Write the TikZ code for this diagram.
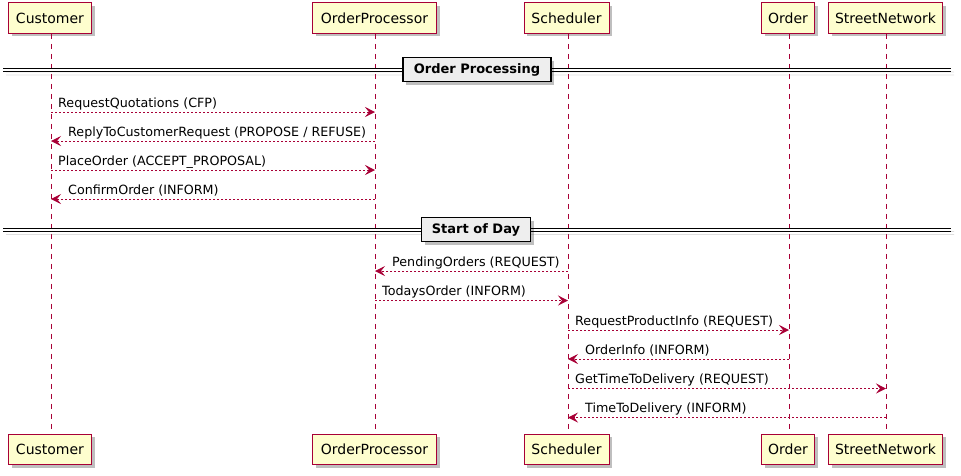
\documentclass[tikz,border=0pt]{standalone}
\usepackage{fontspec}
\setmainfont{DejaVu Sans}
\usetikzlibrary{arrows.meta,shadows}
\definecolor{puRed}{HTML}{A80036}
\definecolor{puFill}{HTML}{FEFECE}
\definecolor{puDiv}{HTML}{EEEEEE}
\tikzset{
  x=1pt,y=-1pt,
  actor/.style={draw=puRed,fill=puFill,line width=1pt,minimum height=30.5pt,inner sep=0pt,
    font=\fontsize{14}{16}\selectfont,
    drop shadow={shadow xshift=3pt,shadow yshift=-3pt,fill=black,opacity=0.25}},
  life/.style={draw=puRed,line width=0.9pt,dash pattern=on 5pt off 5pt},
  msg/.style={draw=puRed,line width=0.9pt,dash pattern=on 2pt off 2pt,
    -{Stealth[length=10pt,width=10pt,inset=4pt,fill=puRed,line width=0.5pt]}},
  lbl/.style={anchor=base west,inner sep=0pt,font=\fontsize{12.7}{15}\selectfont},
  divbox/.style={draw=black,fill=puDiv,line width=1.5pt,minimum height=24pt,inner sep=0pt,
    font=\bfseries\fontsize{13}{15}\selectfont,
    drop shadow={shadow xshift=3pt,shadow yshift=-3pt,fill=black,opacity=0.25}},
  divline/.style={draw=black,line width=0.9pt}
}
\begin{document}
\begin{tikzpicture}
\useasboundingbox (0,0) rectangle (961,475);
% top participants
\node[actor,minimum width=83pt]  (cT)  at (50,18) {Customer};
\node[actor,minimum width=124pt] (opT) at (374.5,18) {OrderProcessor};
\node[actor,minimum width=85pt]  (sT)  at (566.5,18) {Scheduler};
\node[actor,minimum width=53pt]  (oT)  at (788,18) {Order};
\node[actor,minimum width=114pt] (snT) at (885.5,18) {StreetNetwork};
% bottom participants
\node[actor,minimum width=83pt]  (cB)  at (50,449.5) {Customer};
\node[actor,minimum width=124pt] (opB) at (374.5,449.5) {OrderProcessor};
\node[actor,minimum width=85pt]  (sB)  at (566.5,449.5) {Scheduler};
\node[actor,minimum width=53pt]  (oB)  at (788,449.5) {Order};
\node[actor,minimum width=114pt] (snB) at (885.5,449.5) {StreetNetwork};
% lifelines
\coordinate (cL) at (51,0);
\coordinate (opL) at (375,0);
\coordinate (sL) at (568,0);
\coordinate (oL) at (789,0);
\coordinate (snL) at (886,0);
\draw[life] (cL |- cT.south) -- (cL |- cB.north);
\draw[life] (opL |- opT.south) -- (opL |- opB.north);
\draw[life] (sL |- sT.south) -- (sL |- sB.north);
\draw[life] (oL |- oT.south) -- (oL |- oB.north);
\draw[life] (snL |- snT.south) -- (snL |- snB.north);
% divider 1
\coordinate (d1l) at (3,0); \coordinate (d1r) at (951,0);
\begin{scope}[transparency group,opacity=0.25]
\draw[line width=0.9pt,gray] ([xshift=3pt]d1l |- 0,72) -- ([xshift=3pt]d1r |- 0,72);
\draw[line width=0.9pt,gray] ([xshift=3pt]d1l |- 0,75) -- ([xshift=3pt]d1r |- 0,75);
\end{scope}
\draw[divline] (d1l |- 0,68.5) -- (d1r |- 0,68.5);
\draw[divline] (d1l |- 0,71.5) -- (d1r |- 0,71.5);
\node[divbox,minimum width=148pt] (div1) at (477,69.5) {Order Processing};
% messages block 1
\draw[msg] (cL |- 0,112) -- (opL |- 0,112);
\node[lbl] (m1) at (58,107) {RequestQuotations (CFP)};
\draw[msg] (opL |- 0,141) -- (cL |- 0,141);
\node[lbl] (m2) at (68,136) {ReplyToCustomerRequest (PROPOSE / REFUSE)};
\draw[msg] (cL |- 0,170) -- (opL |- 0,170);
\node[lbl] (m3) at (58,165) {PlaceOrder (ACCEPT\_PROPOSAL)};
\draw[msg] (opL |- 0,199) -- (cL |- 0,199);
\node[lbl] (m4) at (68,194) {ConfirmOrder (INFORM)};
% divider 2
\begin{scope}[transparency group,opacity=0.25]
\draw[line width=0.9pt,gray] ([xshift=3pt]d1l |- 0,231.5) -- ([xshift=3pt]d1r |- 0,231.5);
\draw[line width=0.9pt,gray] ([xshift=3pt]d1l |- 0,234.5) -- ([xshift=3pt]d1r |- 0,234.5);
\end{scope}
\draw[divline] (d1l |- 0,228.2) -- (d1r |- 0,228.2);
\draw[divline] (d1l |- 0,231.2) -- (d1r |- 0,231.2);
\node[divbox,minimum width=109pt] (div2) at (476,229.5) {Start of Day};
% messages block 2
\draw[msg] (sL |- 0,271) -- (opL |- 0,271);
\node[lbl] (m5) at (392,266) {PendingOrders (REQUEST)};
\draw[msg] (opL |- 0,300.5) -- (sL |- 0,300.5);
\node[lbl] (m6) at (382,295.5) {TodaysOrder (INFORM)};
\draw[msg] (sL |- 0,330) -- (oL |- 0,330);
\node[lbl] (m7) at (575,325) {RequestProductInfo (REQUEST)};
\draw[msg] (oL |- 0,359) -- (sL |- 0,359);
\node[lbl] (m8) at (585,354) {OrderInfo (INFORM)};
\draw[msg] (sL |- 0,388.5) -- (snL |- 0,388.5);
\node[lbl] (m9) at (575,383.5) {GetTimeToDelivery (REQUEST)};
\draw[msg] (snL |- 0,417.5) -- (sL |- 0,417.5);
\node[lbl] (m10) at (585,412.5) {TimeToDelivery (INFORM)};
\end{tikzpicture}
\end{document}
